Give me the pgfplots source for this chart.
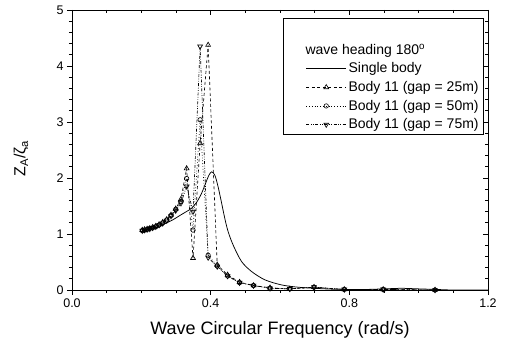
\documentclass[border=0pt]{standalone}
\usepackage{fontspec}
\setmainfont{Liberation Sans}
\usepackage{pgfplots}
\pgfplotsset{compat=1.18}
\begin{document}
\begin{tikzpicture}
\useasboundingbox (-72pt,-57pt) rectangle (433pt,290pt);
\pgfplotsset{
  common/.style={
    scale only axis, width=416pt, height=280pt,
    xmin=0, xmax=1.2, ymin=0, ymax=5,
    xtick={0,0.4,0.8,1.2}, minor x tick num=3,
    ytick={0,1,2,3,4,5}, minor y tick num=4,
    major tick length=5pt, minor tick length=3pt,
    every tick/.style={black, line width=0.6pt},
    axis line style={line width=0.7pt},
  }
}
\begin{axis}[common,
  xtick pos=bottom, ytick pos=left, tick align=outside,
  /pgf/number format/assume math mode=true,
  xticklabel style={/pgf/number format/fixed, /pgf/number format/fixed zerofill, /pgf/number format/precision=1},
  yticklabel style={/pgf/number format/fixed},
  tick label style={font=\fontsize{12.5}{14}\selectfont},
  xlabel={Wave Circular Frequency (rad/s)},
  xlabel style={font=\fontsize{18}{21}\selectfont, at={(axis description cs:0.5,-0.1607)}, anchor=base},
  ylabel={Z\textsubscript{A}/ζ\textsubscript{a}},
  ylabel style={font=\fontsize{16}{19}\selectfont, at={(axis description cs:-0.1226,0.47)}, anchor=center, rotate=0},
  legend style={at={(axis description cs:1,1)}, anchor=north east, xshift=-4pt, yshift=-8pt,
    font=\fontsize{14}{17}\selectfont, draw=black, line width=0.7pt, cells={anchor=west},
    inner xsep=3pt, inner ysep=2pt, row sep=3pt},
  legend image post style={line width=0.6pt},
  legend image code/.code={\path (-20pt,0pt); \draw[#1] (0pt,0pt) -- (40pt,0pt); \draw[#1, only marks] plot coordinates {(20pt,0pt)};},
  legend cell align=left,
]
\addlegendimage{empty legend}
\addlegendentry{\rule{0pt}{13pt}}
\addlegendimage{empty legend}
\addlegendentry{\hspace{-43pt}wave heading 180\textsuperscript{o}}

% Single body
\addplot[black, line width=0.75pt, smooth, tension=0.5] coordinates {
(0.200,1.05) (0.230,1.09) (0.263,1.17) (0.290,1.25) (0.311,1.33) (0.330,1.40)
(0.345,1.46) (0.360,1.57) (0.374,1.73) (0.385,1.90) (0.395,2.05) (0.403,2.11)
(0.412,2.05) (0.420,1.88) (0.430,1.60) (0.440,1.30) (0.450,1.05) (0.465,0.80)
(0.489,0.51) (0.518,0.33) (0.557,0.18) (0.605,0.09) (0.652,0.05) (0.700,0.03)
(0.750,0.015) (0.800,0.01) (0.850,0.01) (0.900,0.02) (0.950,0.03) (1.000,0.02)
(1.050,0.01) (1.100,0.0) (1.200,0.0)
};
\addlegendentry{Single body}

% gap 25m
\addplot[black, line width=0.65pt, dash pattern=on 3pt off 2.5pt, mark=triangle, mark size=2.8pt, mark options={solid}] coordinates {
(0.2027,1.07) (0.2094,1.08) (0.2167,1.09) (0.2244,1.10) (0.2327,1.12) (0.2417,1.14)
(0.2513,1.17) (0.2618,1.21) (0.2732,1.26) (0.2856,1.34) (0.2992,1.45) (0.3142,1.62)
(0.3307,2.17) (0.3491,0.57) (0.3696,2.62) (0.3927,4.375) (0.4189,0.45) (0.4488,0.27)
(0.4833,0.14) (0.5236,0.08) (0.5712,0.04) (0.6283,0.02) (0.6981,0.05) (0.7854,0.01)
(0.8976,0.01) (1.0472,0.0)
};
\addlegendentry{Body 11 (gap = 25m)}

% gap 50m
\addplot[black, line width=0.65pt, dash pattern=on 0.8pt off 2pt, mark=o, mark size=2.2pt, mark options={solid}] coordinates {
(0.2027,1.06) (0.2094,1.07) (0.2167,1.08) (0.2244,1.10) (0.2327,1.11) (0.2417,1.13)
(0.2513,1.16) (0.2618,1.20) (0.2732,1.25) (0.2856,1.33) (0.2992,1.44) (0.3142,1.58)
(0.3307,1.99) (0.3491,1.07) (0.3696,3.04) (0.3927,0.62) (0.4189,0.43) (0.4488,0.25)
(0.4833,0.13) (0.5236,0.08) (0.5712,0.03) (0.6283,0.02) (0.6981,0.05) (0.7854,0.01)
(0.8976,0.01) (1.0472,0.0)
};
\addlegendentry{Body 11 (gap = 50m)}

% gap 75m
\addplot[black, line width=0.65pt, dash pattern=on 3pt off 1.5pt on 0.8pt off 1.5pt on 0.8pt off 1.5pt, mark=triangle, mark size=2.8pt, mark options={solid, rotate=180}] coordinates {
(0.2027,1.06) (0.2094,1.07) (0.2167,1.08) (0.2244,1.09) (0.2327,1.11) (0.2417,1.13)
(0.2513,1.16) (0.2618,1.19) (0.2732,1.24) (0.2856,1.32) (0.2992,1.42) (0.3142,1.55)
(0.3307,1.85) (0.3491,1.40) (0.3696,4.35) (0.3927,0.58) (0.4189,0.42) (0.4488,0.25)
(0.4833,0.13) (0.5236,0.08) (0.5712,0.03) (0.6283,0.02) (0.6981,0.05) (0.7854,0.01)
(0.8976,0.01) (1.0472,0.0)
};
\addlegendentry{Body 11 (gap = 75m)}
\end{axis}
\begin{axis}[common,
  xtick pos=top, ytick pos=right, tick align=inside,
  xticklabels={}, yticklabels={}, axis line style={draw=none},
]
\end{axis}
\end{tikzpicture}
\end{document}
